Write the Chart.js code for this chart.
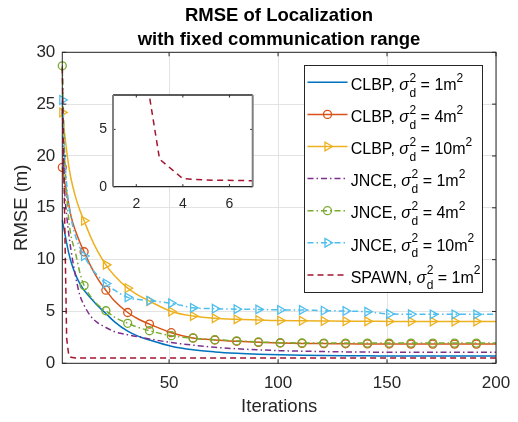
<!DOCTYPE html>
<html>
<head>
<meta charset="utf-8">
<script src="https://cdn.jsdelivr.net/npm/chart.js@4.4.1/dist/chart.umd.min.js"></script>
<style>
  body { margin: 0; background: #fff; }
  #wrap { position: relative; width: 518px; height: 422px; }
  #main { position: absolute; left: 0; top: 0; }
  #inset { position: absolute; left: 85px; top: 88px; }
</style>
</head>
<body>
<div id="wrap">
  <canvas id="main" width="518" height="422"></canvas>
  <canvas id="inset" width="172" height="130"></canvas>
</div>
<script>
const iterations = [1, 2, 3, 4, 5, 7, 9, 11, 14, 17, 21, 25, 31, 36, 41, 51, 61, 71, 81, 91,
  101, 111, 121, 131, 141, 151, 161, 171, 181, 191, 200];

const clbp1  = [13.8, 12.7, 11.6, 10.6, 9.8, 8.6, 7.7, 7.05, 6.3, 5.6, 4.8, 4.0, 3.1, 2.6, 2.25,
  1.65, 1.3, 1.1, 0.97, 0.88, 0.82, 0.78, 0.75, 0.73, 0.72, 0.71, 0.7, 0.7, 0.7, 0.7, 0.7];
const clbp4  = [18.9, 17.6, 16.4, 15.3, 14.2, 12.8, 11.7, 10.76, 9.4, 8.25, 7.05, 6.0, 4.9, 4.25, 3.78,
  2.95, 2.45, 2.25, 2.12, 2.02, 1.96, 1.92, 1.9, 1.88, 1.87, 1.86, 1.85, 1.85, 1.85, 1.85, 1.85];
const clbp10 = [24.2, 22.3, 20.5, 19.0, 17.8, 16.1, 14.8, 13.75, 12.2, 10.9, 9.5, 8.45, 7.25, 6.55, 6.0,
  5.0, 4.56, 4.34, 4.24, 4.18, 4.12, 4.1, 4.08, 4.06, 4.05, 4.04, 4.03, 4.03, 4.03, 4.03, 4.03];
const jnce1  = [24.5, 17.0, 14.3, 12.4, 10.9, 8.5, 6.6, 5.6, 4.55, 3.95, 3.45, 3.05, 2.75, 2.55, 2.35,
  2.0, 1.75, 1.55, 1.4, 1.3, 1.22, 1.17, 1.13, 1.1, 1.08, 1.07, 1.06, 1.06, 1.06, 1.06, 1.06];
const jnce4  = [28.7, 20.5, 16.3, 13.8, 12.3, 10.7, 8.8, 7.5, 6.45, 5.7, 5.07, 4.45, 3.86, 3.45, 3.14,
  2.66, 2.42, 2.28, 2.17, 2.06, 1.99, 1.96, 1.95, 1.95, 1.95, 1.95, 1.95, 1.95, 1.95, 1.95, 1.95];
const jnce10 = [25.4, 20.5, 17.3, 15.3, 14.0, 12.3, 11.2, 10.35, 9.3, 8.5, 7.7, 7.05, 6.36, 6.15, 6.04,
  5.8, 5.35, 5.27, 5.22, 5.2, 5.15, 5.14, 5.08, 5.04, 4.97, 4.76, 4.73, 4.72, 4.72, 4.72, 4.72];
const spawn1 = [28.5, 15.0, 2.4, 0.7, 0.58, 0.52, 0.5, 0.5, 0.5, 0.5, 0.5, 0.5, 0.5, 0.5, 0.5,
  0.5, 0.5, 0.5, 0.5, 0.5, 0.5, 0.5, 0.5, 0.5, 0.5, 0.5, 0.5, 0.5, 0.5, 0.5, 0.5];

const methods   = ['CLBP', 'CLBP', 'CLBP', 'JNCE', 'JNCE', 'JNCE', 'SPAWN'];
const variances = ['1', '4', '10', '1', '4', '10', '1'];

const xTicks = [50, 100, 150, 200];
const yTicks = [0, 5, 10, 15, 20, 25, 30];
const insetXTicks = [2, 4, 6];
const insetYTicks = [0, 5];

const FAM = '"Liberation Sans", Arial, Helvetica, sans-serif';
const INK = '#262626';
const SOLID = [], DASHDOT = [6, 3, 1.5, 3], DASHED = [6, 4];

function series(values, color, dash, marker) {
  return {
    data: iterations.map((x, i) => ({ x: x, y: values[i] })),
    borderColor: color,
    borderWidth: 1.5,
    borderDash: dash,
    cubicInterpolationMode: 'monotone',
    tension: 0,
    fill: false,
    clip: false,
    marker: marker,
    pointStyle: marker === 'tri' ? 'triangle' : 'circle',
    pointRotation: marker === 'tri' ? 90 : 0,
    pointRadius: ctx => marker && (iterations[ctx.dataIndex] - 1) % 10 === 0 ? (marker === 'tri' ? 5 : 4) : 0,
    pointBorderColor: color,
    pointBackgroundColor: 'rgba(0,0,0,0)',
    pointBorderWidth: 1.3
  };
}

const datasets = [
  series(clbp1, '#0072BD', SOLID, null),
  series(clbp4, '#D95319', SOLID, 'circle'),
  series(clbp10, '#EDB120', SOLID, 'tri'),
  series(jnce1, '#7E2F8E', DASHDOT, null),
  series(jnce4, '#77AC30', DASHDOT, 'circle'),
  series(jnce10, '#4DBEEE', DASHDOT, 'tri'),
  series(spawn1, '#A2142F', DASHED, null)
];
datasets[6].cubicInterpolationMode = 'default';
datasets.forEach((d, i) => { d.order = datasets.length - i; });

function drawMarker(ctx, kind, x, y, color) {
  ctx.save();
  ctx.strokeStyle = color;
  ctx.lineWidth = 1.3;
  ctx.setLineDash([]);
  ctx.beginPath();
  if (kind === 'circle') {
    ctx.arc(x, y, 4, 0, Math.PI * 2);
  } else {
    const r = 5;
    ctx.moveTo(x + r, y);
    ctx.lineTo(x - r / 2, y - r * 0.866);
    ctx.lineTo(x - r / 2, y + r * 0.866);
    ctx.closePath();
  }
  ctx.stroke();
  ctx.restore();
}

// no extra label padding from the scales, the layout numbers below place the box
const noPadX = s => { s.paddingLeft = 0; s.paddingRight = 0; };
const noPadY = s => { s.paddingTop = 0; s.paddingBottom = 0; };

// inward tick marks and full box, like the original axes
function frame(len) {
  return {
    id: 'frame',
    afterDatasetsDraw(chart) {
      const { ctx, chartArea: a, scales: { x, y } } = chart;
      ctx.save();
      ctx.strokeStyle = INK;
      ctx.lineWidth = 1;
      ctx.beginPath();
      x.ticks.forEach(t => {
        const px = x.getPixelForValue(t.value);
        ctx.moveTo(px, a.bottom); ctx.lineTo(px, a.bottom - len);
        ctx.moveTo(px, a.top); ctx.lineTo(px, a.top + len);
      });
      y.ticks.forEach(t => {
        const py = y.getPixelForValue(t.value);
        ctx.moveTo(a.left, py); ctx.lineTo(a.left + len, py);
        ctx.moveTo(a.right, py); ctx.lineTo(a.right - len, py);
      });
      ctx.stroke();
      ctx.strokeRect(a.left, a.top, a.right - a.left, a.bottom - a.top);
      ctx.restore();
    }
  };
}

const decor = {
  id: 'decor',
  afterDraw(chart) {
    const ctx = chart.ctx;
    ctx.save();
    // title
    ctx.fillStyle = '#000';
    ctx.textAlign = 'center';
    ctx.textBaseline = 'alphabetic';
    ctx.font = 'bold 18.5px ' + FAM;
    ctx.fillText('RMSE of Localization', 279, 20.5);
    ctx.fillText('with fixed communication range', 279, 44.5);

    // legend
    const lx = 304, ly = 65, lw = 178, lh = 227;
    ctx.fillStyle = '#fff';
    ctx.fillRect(lx, ly, lw, lh);
    ctx.strokeStyle = INK;
    ctx.lineWidth = 1;
    ctx.strokeRect(lx + 0.5, ly + 0.5, lw, lh);
    ctx.textAlign = 'left';
    chart.data.datasets.forEach((ds, i) => {
      const cy = 82.3 + i * 32.1;
      ctx.save();
      ctx.strokeStyle = ds.borderColor;
      ctx.lineWidth = 1.5;
      ctx.setLineDash(ds.borderDash);
      ctx.beginPath();
      ctx.moveTo(307.5, cy);
      ctx.lineTo(347.5, cy);
      ctx.stroke();
      ctx.restore();
      if (ds.marker) drawMarker(ctx, ds.marker, 327.5, cy, ds.borderColor);

      const base = cy + 7.7;
      let x = 350.7;
      ctx.fillStyle = '#000';
      ctx.font = '16px ' + FAM;
      const head = methods[i] + ', ';
      ctx.fillText(head, x, base);
      x += ctx.measureText(head).width;
      ctx.font = 'italic 16px ' + FAM;
      ctx.fillText('σ', x, base);
      x += ctx.measureText('σ').width;
      ctx.font = '12px ' + FAM;
      ctx.fillText('2', x + 0.5, base - 8.3);
      ctx.fillText('d', x + 0.5, base + 6.5);
      x += Math.max(ctx.measureText('2').width, ctx.measureText('d').width) + 0.5;
      ctx.font = '16px ' + FAM;
      const tail = ' = ' + variances[i] + 'm';
      ctx.fillText(tail, x, base);
      x += ctx.measureText(tail).width;
      ctx.font = '12px ' + FAM;
      ctx.fillText('2', x, base - 8.3);
    });
    ctx.restore();
  }
};

new Chart(document.getElementById('main'), {
  type: 'line',
  data: { datasets: datasets },
  options: {
    responsive: false,
    animation: false,
    devicePixelRatio: 1,
    layout: { padding: { top: 52.3, right: 22, left: 0, bottom: 0 } },
    plugins: { legend: { display: false }, tooltip: { enabled: false }, title: { display: false } },
    scales: {
      x: {
        type: 'linear', min: 1, max: 200,
        afterBuildTicks: s => { s.ticks = xTicks.map(v => ({ value: v })); },
        afterFit: s => { s.height = 58.7; noPadX(s); },
        grid: { color: '#e3e3e3', drawTicks: false },
        border: { display: false },
        ticks: { color: INK, font: { family: FAM, size: 17 }, padding: 10, maxRotation: 0, autoSkip: false },
        title: { display: true, text: 'Iterations', color: INK, font: { family: FAM, size: 18.5 }, padding: { top: 0, bottom: 3.7 } }
      },
      y: {
        type: 'linear', min: 0, max: 30,
        afterBuildTicks: s => { s.ticks = yTicks.map(v => ({ value: v })); },
        afterFit: s => { s.width = 62.3; noPadY(s); },
        grid: { color: '#e3e3e3', drawTicks: false },
        border: { display: false },
        ticks: { color: INK, font: { family: FAM, size: 17 }, padding: 7 },
        title: { display: true, text: 'RMSE (m)', color: INK, font: { family: FAM, size: 18.5 }, padding: { top: 10.6, bottom: 0 } }
      }
    }
  },
  plugins: [frame(4), decor]
});

// zoomed view of the SPAWN curve over the first iterations
const insetFrame = {
  id: 'insetFrame',
  beforeDatasetsDraw(chart) {
    const { ctx, chartArea: a } = chart;
    ctx.save();
    ctx.fillStyle = '#fff';
    ctx.fillRect(a.left, a.top, a.right - a.left, a.bottom - a.top);
    ctx.restore();
  },
  afterDatasetsDraw(chart) {
    const { ctx, chartArea: a, scales: { x, y } } = chart;
    ctx.save();
    ctx.strokeStyle = INK;
    ctx.lineWidth = 1;
    ctx.beginPath();
    x.ticks.forEach(t => {
      const px = x.getPixelForValue(t.value);
      ctx.moveTo(px, a.bottom); ctx.lineTo(px, a.bottom - 2.5);
      ctx.moveTo(px, a.top); ctx.lineTo(px, a.top + 2.5);
    });
    y.ticks.forEach(t => {
      const py = y.getPixelForValue(t.value);
      ctx.moveTo(a.left, py); ctx.lineTo(a.left + 2.5, py);
      ctx.moveTo(a.right, py); ctx.lineTo(a.right - 2.5, py);
    });
    ctx.stroke();
    ctx.lineWidth = 1.3;
    ctx.beginPath();
    ctx.moveTo(a.left, a.top); ctx.lineTo(a.right, a.top);
    ctx.moveTo(a.left, a.bottom); ctx.lineTo(a.right, a.bottom);
    ctx.stroke();
    ctx.strokeStyle = '#808080';
    ctx.lineWidth = 2;
    ctx.beginPath();
    ctx.moveTo(a.left, a.top); ctx.lineTo(a.left, a.bottom);
    ctx.moveTo(a.right, a.top); ctx.lineTo(a.right, a.bottom);
    ctx.stroke();
    ctx.restore();
  }
};

new Chart(document.getElementById('inset'), {
  type: 'line',
  data: {
    datasets: [{
      data: iterations.map((x, i) => ({ x: x, y: spawn1[i] })),
      borderColor: '#A2142F',
      borderWidth: 1.5,
      borderDash: [6, 4.5],
      pointRadius: 0,
      tension: 0,
      fill: false
    }]
  },
  options: {
    responsive: false,
    animation: false,
    devicePixelRatio: 1,
    layout: { padding: { top: 7, right: 4.3, left: 0, bottom: 0 } },
    plugins: { legend: { display: false }, tooltip: { enabled: false } },
    scales: {
      x: {
        type: 'linear', min: 1, max: 7,
        afterBuildTicks: s => { s.ticks = insetXTicks.map(v => ({ value: v })); },
        afterFit: s => { s.height = 31.3; noPadX(s); },
        grid: { display: false, drawTicks: false },
        border: { display: false },
        ticks: { color: INK, font: { family: FAM, size: 14 }, padding: 9, maxRotation: 0 }
      },
      y: {
        type: 'linear', min: 0, max: 8,
        afterBuildTicks: s => { s.ticks = insetYTicks.map(v => ({ value: v })); },
        afterFit: s => { s.width = 28; noPadY(s); },
        grid: { display: false, drawTicks: false },
        border: { display: false },
        ticks: { color: INK, font: { family: FAM, size: 14 }, padding: 6 }
      }
    }
  },
  plugins: [insetFrame]
});
</script>
</body>
</html>
